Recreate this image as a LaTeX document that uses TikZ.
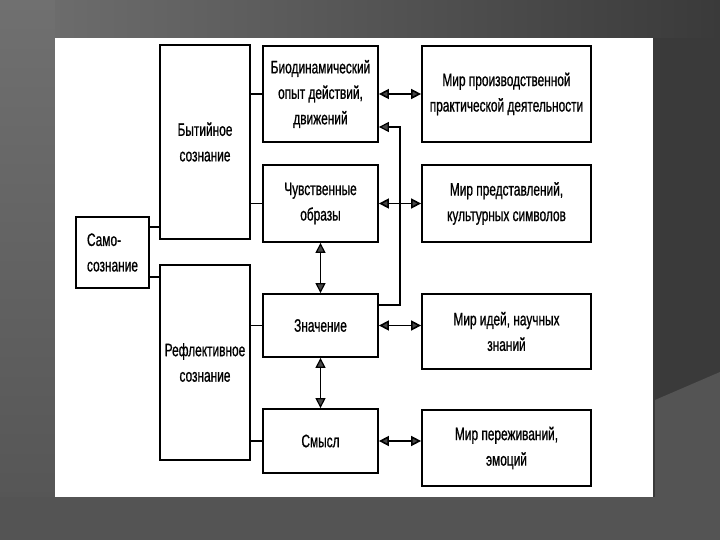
\documentclass[tikz,border=0pt]{standalone}
\usepackage{fontspec}
\setmainfont{Liberation Sans}[FakeStretch=0.66,FakeBold=0.8]
\usetikzlibrary{arrows.meta}
\definecolor{bgdark}{RGB}{58,58,58}
\definecolor{bgmid}{RGB}{84,84,84}
\definecolor{bglight}{RGB}{112,112,112}
\definecolor{tipcol}{RGB}{70,70,70}
\begin{document}
\begin{tikzpicture}[x=1pt,y=-1pt,
  box/.style={draw=black,line width=1.8pt,fill=white,inner sep=0pt,align=center,
    font=\fontsize{18}{25.5}\selectfont},
  link/.style={draw=black,line width=1.6pt},
  dbl/.style={link,{Triangle[length=10pt,width=10pt,fill=tipcol]}-{Triangle[length=10pt,width=10pt,fill=tipcol]}},
  fb/.style={draw=black,line width=1.2pt,-{Triangle[length=10pt,width=10pt,fill=tipcol]}}]
% background
\useasboundingbox (0,0) rectangle (720,540);
\fill[bgdark] (0,0) rectangle (720,540);
\shade[left color=bglight,right color=bgdark] (0,0) rectangle (720,38);
\shade[top color=bglight,bottom color=bgmid] (0,0) rectangle (55,540);
\fill[bgmid] (0,497) -- (655,497) -- (655,400) -- (720,372) -- (720,540) -- (0,540) -- cycle;
\fill[white] (55,38) rectangle (653,497);
% nodes
\node[box,minimum width=73pt,minimum height=71pt,align=left] (self) at (112.5,252.5) {Само-\\сознание};
\node[box,minimum width=90pt,minimum height=194pt] (being) at (205,142) {Бытийное\\сознание};
\node[box,minimum width=90pt,minimum height=195pt] (refl) at (205,362.5) {Рефлективное\\сознание};
\node[box,minimum width=115pt,minimum height=96pt] (bio) at (320.5,94) {Биодинамический\\опыт действий,\\движений};
\node[box,minimum width=115pt,minimum height=77pt] (sens) at (320.5,203.5) {Чувственные\\образы};
\node[box,minimum width=115pt,minimum height=63pt] (mean) at (320.5,325.5) {Значение};
\node[box,minimum width=115pt,minimum height=64pt] (sense) at (320.5,441) {Смысл};
\node[box,minimum width=169pt,minimum height=96pt] (w1) at (506.5,94) {Мир производственной\\практической деятельности};
\node[box,minimum width=169pt,minimum height=77pt] (w2) at (506.5,203.5) {Мир представлений,\\культурных символов};
\node[box,minimum width=169pt,minimum height=75pt] (w3) at (506.5,331.5) {Мир идей, научных\\знаний};
\node[box,minimum width=169pt,minimum height=76pt] (w4) at (506.5,448) {Мир переживаний,\\эмоций};
% plain links
\draw[link] (self.east |- 0,227) -- (being.west |- 0,227);
\draw[link] (self.east |- 0,277) -- (refl.west |- 0,277);
\draw[link] (being.east |- bio.west) -- (bio.west);
\draw[link] (being.east |- sens.west) -- (sens.west);
\draw[link] (refl.east |- mean.west) -- (mean.west);
\draw[link] (refl.east |- sense.west) -- (sense.west);
% feedback
\coordinate (fb1) at (400,305);
\coordinate (fb2) at (400,127);
\draw[fb] (mean.east |- fb1) -- (fb1) -- (fb2) -- (bio.east |- fb2);
% double arrows
\draw[dbl] (bio.east) -- (w1.west);
\draw[dbl] (sens.east) -- (w2.west);
\draw[dbl] (mean.east) -- (w3.west |- mean.east);
\draw[dbl] (sense.east) -- (w4.west |- sense.east);
\draw[dbl,line width=1.2pt] (sens.south) -- (mean.north);
\draw[dbl,line width=1.2pt] (mean.south) -- (sense.north);
\end{tikzpicture}
\end{document}
